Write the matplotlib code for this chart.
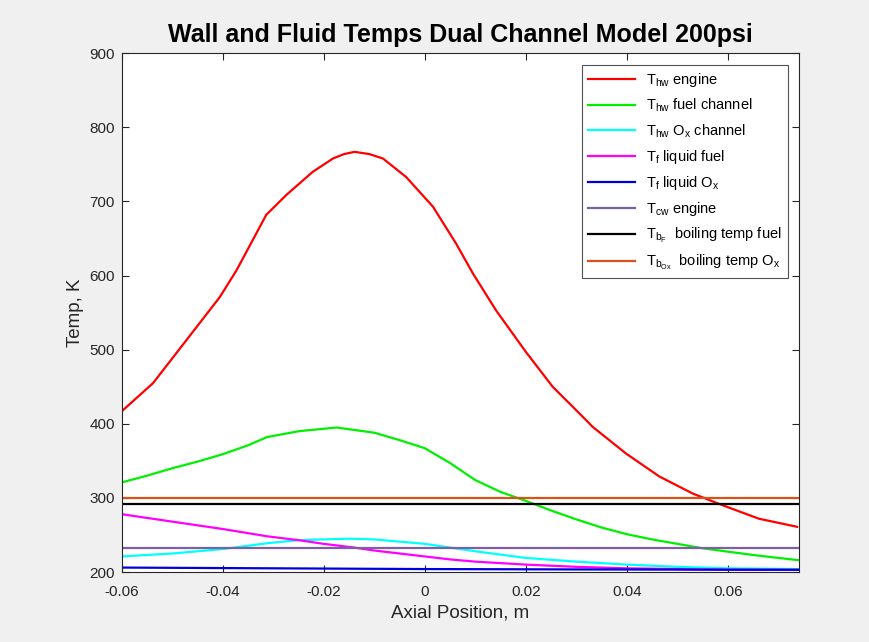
import matplotlib.pyplot as plt

plt.rcParams["font.family"] = ["Liberation Sans", "DejaVu Sans"]
plt.rcParams["mathtext.fontset"] = "custom"
plt.rcParams["mathtext.rm"] = "Liberation Sans"
plt.rcParams["mathtext.it"] = "Liberation Sans"

# hot wall, engine
x_hw_engine = [-0.06, -0.0538, -0.0472, -0.0406, -0.0373, -0.0314, -0.0274, -0.0222, -0.0182,
               -0.016, -0.0139, -0.011, -0.0083, -0.0037, 0.0016, 0.0062, 0.0095, 0.0141,
               0.02, 0.0253, 0.0306, 0.0332, 0.0398, 0.0464, 0.053, 0.0582, 0.0661, 0.0737]
T_hw_engine = [417, 455, 513, 571, 607, 682, 709, 740, 758,
               764, 767, 764, 758, 733, 693, 643, 603, 553,
               497, 450, 414, 396, 360, 329, 306, 292, 272, 261]

# hot wall, fuel channel
x_hw_fuel = [-0.06, -0.055, -0.05, -0.045, -0.04, -0.035, -0.0313, -0.025, -0.0175, -0.01,
             -0.005, 0.0, 0.005, 0.01, 0.015, 0.02, 0.025, 0.03, 0.035, 0.04, 0.045,
             0.05, 0.055, 0.06, 0.065, 0.07, 0.074]
T_hw_fuel = [321, 330, 340, 349, 359, 371, 382, 390, 395, 388,
             378, 367, 347, 324, 308, 296, 283, 271, 260, 251, 244,
             238, 232, 227.5, 223, 219, 216]

# hot wall, ox channel
x_hw_ox = [-0.06, -0.05, -0.04, -0.031, -0.025, -0.015, -0.01, -0.005, 0.0, 0.005, 0.01,
           0.02, 0.03, 0.04, 0.05, 0.06, 0.074]
T_hw_ox = [221, 225, 231, 239, 243, 245, 244, 241, 238, 233, 228,
           219, 214, 210, 207, 205, 204]

# liquid fuel
x_f_fuel = [-0.06, -0.05, -0.04, -0.031, -0.025, -0.02, -0.014, -0.01, -0.005, 0.0, 0.005,
            0.01, 0.02, 0.03, 0.04, 0.05, 0.06, 0.074]
T_f_fuel = [278, 268, 258, 248, 243, 238, 233, 229, 225, 221, 217,
            214, 210, 207, 205, 204, 203, 203]

# liquid ox
x_f_ox = [-0.06, -0.03, 0.0, 0.03, 0.074]
T_f_ox = [206, 205, 204, 203.5, 203]

x_range = [-0.06, 0.074]
T_cw_engine = 233
T_boil_fuel = 292
T_boil_ox = 300

xticks = [-0.06, -0.04, -0.02, 0, 0.02, 0.04, 0.06]
xtick_labels = ["-0.06", "-0.04", "-0.02", "0", "0.02", "0.04", "0.06"]
yticks = [200, 300, 400, 500, 600, 700, 800, 900]

fig = plt.figure(figsize=(8.7, 6.42), dpi=100, facecolor="#f0f0f0")
ax = fig.add_axes([0.140, 0.109, 0.778, 0.808])

lw = 1.6
ax.plot(x_hw_engine, T_hw_engine, color="#ff0000", lw=lw, label=r"T$_{\mathrm{hw}}$ engine")
ax.plot(x_hw_fuel, T_hw_fuel, color="#00f000", lw=lw, label=r"T$_{\mathrm{hw}}$ fuel channel")
ax.plot(x_hw_ox, T_hw_ox, color="#00ffff", lw=lw, label=r"T$_{\mathrm{hw}}$ O$_{\mathrm{x}}$ channel")
ax.plot(x_f_fuel, T_f_fuel, color="#ff00ff", lw=lw, label=r"T$_{\mathrm{f}}$ liquid fuel")
ax.plot(x_f_ox, T_f_ox, color="#0000dd", lw=lw, label=r"T$_{\mathrm{f}}$ liquid O$_{\mathrm{x}}$")
ax.plot(x_range, [T_cw_engine] * 2, color="#7e5fa6", lw=lw, label=r"T$_{\mathrm{cw}}$ engine")
ax.plot(x_range, [T_boil_fuel] * 2, color="black", lw=lw,
        label=r"T$_{\mathrm{b}_{\mathrm{F}}}$  boiling temp fuel")
ax.plot(x_range, [T_boil_ox] * 2, color="#d95319", lw=lw,
        label=r"T$_{\mathrm{b}_{\mathrm{Ox}}}$  boiling temp O$_{\mathrm{x}}$")

ax.set_xlim(-0.06, 0.074)
ax.set_ylim(200, 900)
ax.set_xticks(xticks)
ax.set_xticklabels(xtick_labels)
ax.set_yticks(yticks)
ax.tick_params(direction="in", top=True, right=True, labelsize=11, length=5,
               color="#262626", labelcolor="#262626")
ax.tick_params(axis="x", pad=9)
ax.tick_params(axis="y", pad=5)
for s in ax.spines.values():
    s.set_color("#262626")
    s.set_linewidth(0.8)

ax.set_xlabel("Axial Position, m", fontsize=13.5, color="#262626", labelpad=4)
ax.set_ylabel("Temp, K", fontsize=13.5, color="#262626")
ax.set_title("Wall and Fluid Temps Dual Channel Model 200psi", fontsize=18,
             fontweight="bold", pad=8)

leg = ax.legend(loc="upper right", bbox_to_anchor=(0.984, 0.977), borderaxespad=0,
                fancybox=False, edgecolor="#262626", fontsize=10.5, handlelength=3.2,
                labelspacing=0.55, borderpad=0.4)
leg.get_frame().set_linewidth(0.8)

fig.savefig("out.png", dpi=100, facecolor=fig.get_facecolor())
